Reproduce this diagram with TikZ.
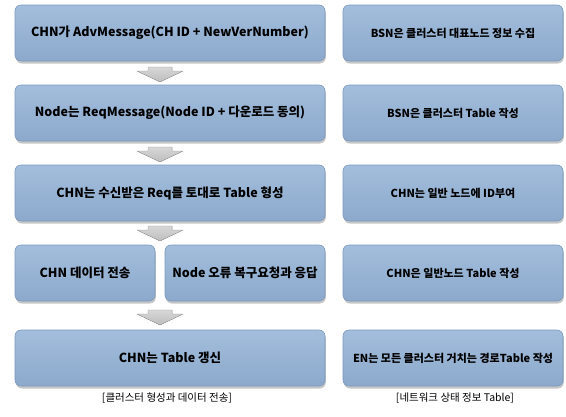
\documentclass[tikz,border=0pt]{standalone}
\usepackage{fontspec}
\setmainfont{Noto Sans CJK KR}
\usetikzlibrary{shadows}
\definecolor{boxtop}{HTML}{A3BEDC}
\definecolor{boxbot}{HTML}{8CA9CC}
\definecolor{boxline}{HTML}{7B99BD}
\definecolor{arrowgray}{HTML}{BDBDBD}
\tikzset{
  box/.style={rounded corners=6pt, draw=boxline, line width=0.6pt,
    top color=boxtop, bottom color=boxbot, minimum height=56pt,
    font=\bfseries\fontsize{12.5}{14}\selectfont, inner sep=2pt,
    drop shadow={opacity=0.45, shadow xshift=0.8pt, shadow yshift=-2.5pt}},
  wide/.style={box, minimum width=310pt},
  half/.style={box, minimum width=140pt},
  side/.style={box, minimum width=220pt, font=\bfseries\fontsize{11}{13}\selectfont},
  caption/.style={font=\fontsize{10.5}{12}\selectfont},
  downarr/.pic={
    \fill[top color=arrowgray!60, bottom color=arrowgray, draw=arrowgray!80!black, line width=0.2pt]
      (-12,0) -- (12,0) -- (12,4) -- (23,4) -- (0,15) -- (-23,4) -- (-12,4) -- cycle;
  }
}
\begin{document}
\begin{tikzpicture}[x=1pt, y=-1pt]
  \useasboundingbox (0,0) rectangle (566,416);
  % left column
  \node[wide] (l1) at (170,33) {CHN가 AdvMessage(CH ID + NewVerNumber)};
  \node[wide] (l2) at (170,113) {Node는 ReqMessage(Node ID + 다운로드 동의)};
  \node[wide] (l3) at (170,193) {CHN는 수신받은 Req를 토대로 Table 형성};
  \node[half] (l4a) at (85,273) {CHN 데이터 전송};
  \node[box, minimum width=160pt] (l4b) at (245,273) {Node 오류 복구요청과 응답};
  \node[wide] (l5) at (170,358) {CHN는 Table 갱신};
  \node[caption] (capl) at (167,398) {[클러스터 형성과 데이터 전송]};
  % arrows between steps
  \pic at (160,67) {downarr};
  \pic at (160,147) {downarr};
  \pic at (160,226) {downarr};
  \pic at (160,310) {downarr};
  % right column
  \node[side] (r1) at (453,33) {BSN은 클러스터 대표노드 정보 수집};
  \node[side] (r2) at (453,113) {BSN은 클러스터 Table 작성};
  \node[side] (r3) at (453,193) {CHN는 일반 노드에 ID부여};
  \node[side] (r4) at (453,273) {CHN은 일반노드 Table 작성};
  \node[side] (r5) at (453,358) {EN는 모든 클러스터 거치는 경로Table 작성};
  \node[caption] (capr) at (455,398) {[네트워크 상태 정보 Table]};
\end{tikzpicture}
\end{document}
